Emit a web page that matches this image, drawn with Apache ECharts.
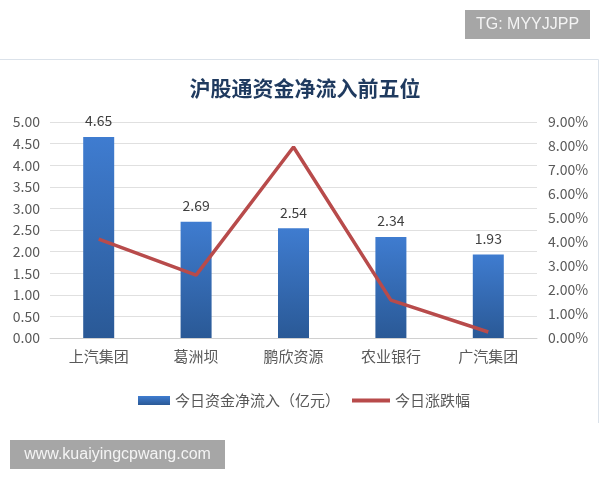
<!DOCTYPE html>
<html><head><meta charset="utf-8">
<script src="https://cdn.jsdelivr.net/npm/echarts@6/dist/echarts.min.js"></script>
<style>html,body{margin:0;padding:0;background:#fff}#c{width:600px;height:480px}</style>
</head><body><div id="c"></div>
<script>
const categories = ['上汽集团','葛洲坝','鹏欣资源','农业银行','广汽集团'];
const netInflow = [4.65, 2.69, 2.54, 2.34, 1.93];
const changePct = [4.12, 2.62, 7.96, 1.58, 0.25];
const titleText = '沪股通资金净流入前五位';
const barName = '今日资金净流入（亿元）';
const lineName = '今日涨跌幅';

const FONT = '"Noto Sans CJK SC", "Noto Sans", sans-serif';
const chart = echarts.init(document.getElementById('c'));
chart.setOption({
  backgroundColor: '#fff',
  animation: false,
  title: {
    text: titleText, left: 300, top: 73, textAlign: 'center',
    textStyle: {fontFamily: FONT, fontSize: 21, fontWeight: 'bold', color: '#1f3a5f'}
  },
  graphic: [
    {type: 'polyline', shape: {points: [[0, 59.5], [598.5, 59.5], [598.5, 423]]}, style: {fill: 'none', stroke: '#dbe2ea', lineWidth: 1}, z: -1},
    {type: 'rect', shape: {x: 465, y: 10, width: 125, height: 29}, style: {fill: '#a6a6a6'}},
    {type: 'text', x: 527.5, y: 25, style: {text: 'TG: MYYJJPP', fill: '#f4f4f4', font: '16px "Liberation Sans", sans-serif', textAlign: 'center', textVerticalAlign: 'middle'}},
    {type: 'rect', shape: {x: 10, y: 440, width: 215, height: 29}, style: {fill: '#a6a6a6'}},
    {type: 'text', x: 117.5, y: 455, style: {text: 'www.kuaiyingcpwang.com', fill: '#f4f4f4', font: '16px "Liberation Sans", sans-serif', textAlign: 'center', textVerticalAlign: 'middle'}}
  ],
  legend: [
    {left: 133, top: 388, itemWidth: 32, itemHeight: 9,
     textStyle: {fontFamily: FONT, fontSize: 15, color: '#595959'},
     data: [{name: barName, icon: 'rect'}]},
    {left: 347, top: 388, itemWidth: 38, itemHeight: 4,
     textStyle: {fontFamily: FONT, fontSize: 15, color: '#595959'},
     data: [{name: lineName, icon: 'rect'}]}
  ],
  grid: {left: 50, right: 63, top: 122, bottom: 142},
  xAxis: {
    type: 'category', data: categories,
    axisLine: {lineStyle: {color: '#d0d0d0'}}, axisTick: {show: false},
    axisLabel: {fontFamily: FONT, fontSize: 15, color: '#595959', margin: 11}
  },
  yAxis: [
    {type: 'value', min: 0, max: 5, interval: 0.5,
     axisLabel: {formatter: v => v.toFixed(2), fontFamily: FONT, fontSize: 14, color: '#595959', margin: 10},
     splitLine: {lineStyle: {color: '#e0e0e0'}}, axisLine: {show: false}, axisTick: {show: false}},
    {type: 'value', min: 0, max: 9, interval: 1, position: 'right',
     axisLabel: {formatter: v => v.toFixed(2) + '%', fontFamily: FONT, fontSize: 14, color: '#595959', margin: 11},
     splitLine: {show: false}, axisLine: {show: false}, axisTick: {show: false}}
  ],
  series: [
    {name: barName, type: 'bar', data: netInflow, barWidth: 31, yAxisIndex: 0,
     itemStyle: {color: new echarts.graphic.LinearGradient(0, 0, 0, 1, [{offset: 0, color: '#3f7cd0'}, {offset: 1, color: '#2a5996'}])},
     label: {show: true, position: 'top', distance: 9, formatter: p => p.value.toFixed(2), fontFamily: FONT, fontSize: 14, color: '#404040'}},
    {name: lineName, type: 'line', data: changePct, yAxisIndex: 1, symbol: 'none',
     lineStyle: {color: '#b84b4b', width: 3.5}, itemStyle: {color: '#b84b4b'}, z: 5}
  ]
});
</script></body></html>
